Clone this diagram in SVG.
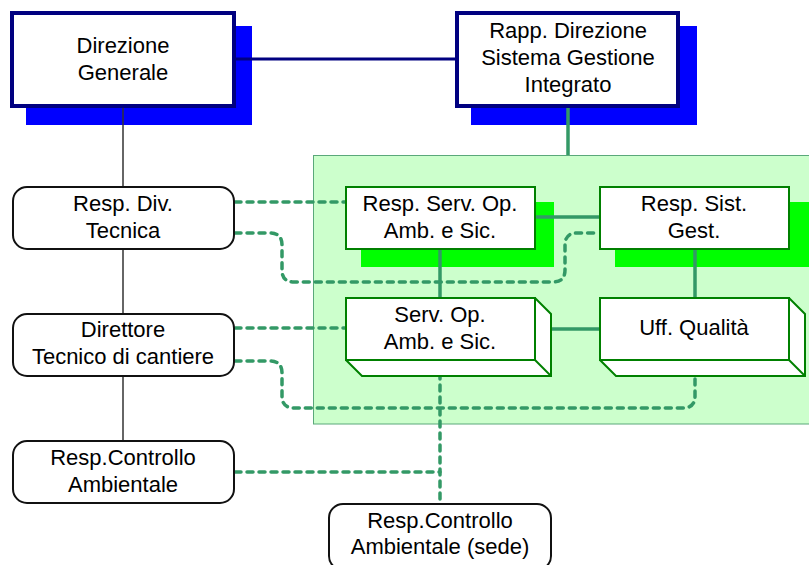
<svg xmlns="http://www.w3.org/2000/svg" width="809" height="565" viewBox="0 0 809 565">
<style>
text{font-family:"Liberation Sans",Arial,sans-serif;font-size:22px;fill:#000;text-anchor:middle}
.navy{fill:#fff;stroke:#000080;stroke-width:4}
.bshadow{fill:#0000ff}
.gshadow{fill:#00ff00}
.gbox{fill:#fff;stroke:#008000;stroke-width:2}
.rbox{fill:#fff;stroke:#111;stroke-width:2}
.solid{fill:none;stroke:#339966;stroke-width:3.5}
.dash{fill:none;stroke:#339966;stroke-width:3.5;stroke-dasharray:6 6;stroke-linecap:round}
</style>
<rect id="area" x="313.5" y="155.5" width="500" height="268.5" fill="#ccffcc" stroke="#5aa87a" stroke-width="1"/>
<g id="shadows">
<rect class="bshadow" x="26" y="26" width="226" height="99"/>
<rect class="bshadow" x="471" y="26" width="226" height="99"/>
<rect class="gshadow" x="361" y="202" width="193" height="65"/>
<rect class="gshadow" x="615" y="202" width="194" height="65"/>
</g>
<g id="connectors">
<path d="M123,108 V441" stroke="#333" stroke-width="1.5" fill="none"/>
<path d="M236,59 H455" stroke="#000080" stroke-width="3" fill="none"/>
<path class="solid" d="M568,108 V155"/>
<path class="solid" d="M536,217 H599"/>
<path class="solid" d="M440,250 V297"/>
<path class="solid" d="M695,250 V297"/>
<path class="solid" d="M536,329 H599"/>
<path class="dash" d="M235,202 H345"/>
<path class="dash" d="M235,233 H270 Q282,233 282,245 V270 Q282,282 294,282 H553 Q565,282 565,270 V245 Q565,233 577,233 H599"/>
<path class="dash" d="M235,328 H345"/>
<path class="dash" d="M235,361 H270 Q282,361 282,373 V396 Q282,408 294,408 H683 Q695,408 695,396 V361"/>
<path class="dash" d="M440,361 V503"/>
<path class="dash" d="M235,472 H440"/>
</g>
<g id="direzione">
<rect class="navy" x="12" y="13" width="222" height="93"/>
<text x="123" y="53">Direzione</text>
<text x="123" y="80">Generale</text>
</g>
<g id="rapp">
<rect class="navy" x="457" y="13" width="221" height="93"/>
<text x="568" y="38">Rapp. Direzione</text>
<text x="568" y="65">Sistema Gestione</text>
<text x="568" y="92">Integrato</text>
</g>
<g id="respserv">
<rect class="gbox" x="346" y="187" width="189" height="62"/>
<text x="440" y="211">Resp. Serv. Op.</text>
<text x="440" y="238">Amb. e Sic.</text>
</g>
<g id="respsist">
<rect class="gbox" x="600" y="187" width="189" height="62"/>
<text x="694" y="211">Resp. Sist.</text>
<text x="694" y="238">Gest.</text>
</g>
<g id="servop">
<path class="gbox" d="M346,298 H535 L551,314 V376 H362 L346,360 Z"/>
<rect class="gbox" x="346" y="298" width="189" height="62"/>
<path d="M535,360 L551,376" stroke="#008000" stroke-width="2"/>
<text x="440" y="322">Serv. Op.</text>
<text x="440" y="349">Amb. e Sic.</text>
</g>
<g id="uff">
<path class="gbox" d="M600,298 H789 L805,314 V376 H616 L600,360 Z"/>
<rect class="gbox" x="600" y="298" width="189" height="62"/>
<path d="M789,360 L805,376" stroke="#008000" stroke-width="2"/>
<text x="694" y="335">Uff. Qualità</text>
</g>
<g id="respdiv">
<rect class="rbox" x="13" y="187" width="221" height="62" rx="14"/>
<text x="123" y="211">Resp. Div.</text>
<text x="123" y="238">Tecnica</text>
</g>
<g id="direttore">
<rect class="rbox" x="13" y="314" width="221" height="62" rx="14"/>
<text x="123" y="337">Direttore</text>
<text x="123" y="364">Tecnico di cantiere</text>
</g>
<g id="respctrl">
<rect class="rbox" x="13" y="441" width="221" height="62" rx="14"/>
<text x="123" y="465">Resp.Controllo</text>
<text x="123" y="492">Ambientale</text>
</g>
<g id="respsede">
<rect class="rbox" x="329" y="504" width="222" height="66" rx="14"/>
<text x="440" y="528">Resp.Controllo</text>
<text x="440" y="554">Ambientale (sede)</text>
</g>
</svg>
